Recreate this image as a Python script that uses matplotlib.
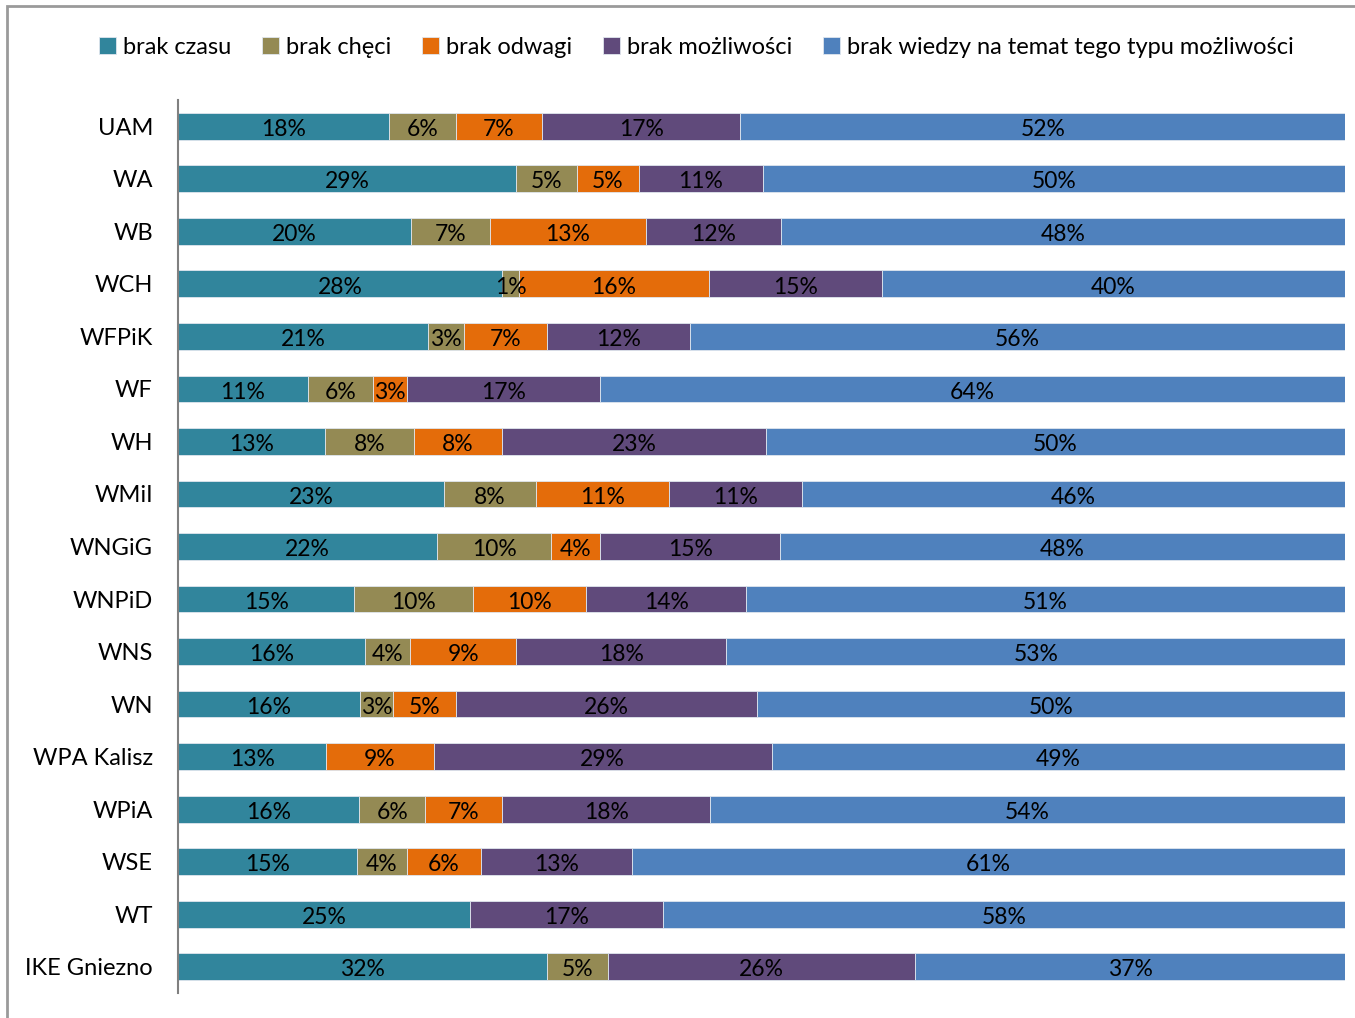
import matplotlib
matplotlib.use("Agg")
import matplotlib.pyplot as plt
import matplotlib.patches as patches
import numpy as np

plt.rcParams['font.family'] = ['Lato', 'DejaVu Sans']

# faculties, top to bottom
faculties = ["UAM", "WA", "WB", "WCH", "WFPiK", "WF", "WH", "WMiI", "WNGiG",
             "WNPiD", "WNS", "WN", "WPA Kalisz", "WPiA", "WSE", "WT", "IKE Gniezno"]

series_names = ["brak czasu", "brak chęci", "brak odwagi", "brak możliwości",
                "brak wiedzy na temat tego typu możliwości"]

# shares in percent
brak_czasu = [18.1, 29.0, 20.0, 27.8, 21.4, 11.1, 12.6, 22.8, 22.2, 15.1, 16.0, 15.6, 12.7, 15.5, 15.3, 25.0, 31.6]
brak_checi = [5.7, 5.2, 6.7, 1.4, 3.1, 5.6, 7.6, 7.9, 9.8, 10.2, 3.9, 2.8, 0.0, 5.7, 4.3, 0.0, 5.2]
brak_odwagi = [7.4, 5.3, 13.4, 16.3, 7.1, 2.9, 7.6, 11.4, 4.2, 9.7, 9.1, 5.4, 9.2, 6.6, 6.4, 0.0, 0.0]
brak_mozliwosci = [17.0, 10.6, 11.6, 14.8, 12.3, 16.6, 22.6, 11.4, 15.4, 13.7, 18.0, 25.8, 29.0, 17.8, 12.9, 16.6, 26.3]
brak_wiedzy = [51.8, 49.9, 48.3, 39.7, 56.1, 63.8, 49.6, 46.5, 48.4, 51.3, 53.0, 50.4, 49.1, 54.4, 61.1, 58.4, 36.8]

colors = ["#31859C", "#948A54", "#E46C0A", "#604A7B", "#4F81BD"]

data = np.array([brak_czasu, brak_checi, brak_odwagi, brak_mozliwosci, brak_wiedzy])
shares = data / data.sum(axis=0)  # 100% stacked

fig = plt.figure(figsize=(13.55, 10.18), dpi=100)
ax = fig.add_axes([178 / 1355, 1 - 993 / 1018, (1345 - 178) / 1355, (993 - 100) / 1018])

y = np.arange(len(faculties))
left = np.zeros(len(faculties))
for k, name in enumerate(series_names):
    ax.barh(y, shares[k], left=left, height=0.51, color=colors[k], label=name,
            edgecolor="#dfe6ee", linewidth=0.6)
    for i in range(len(faculties)):
        if data[k, i] > 0:
            ax.text(left[i] + shares[k, i] / 2, y[i] + 0.06, f"{data[k, i]:.0f}%",
                    ha="center", va="center", fontsize=16.5, color="black")
    left += shares[k]

ax.set_xlim(0, 1)
ax.set_ylim(len(faculties) - 0.5, -0.5)
ax.set_yticks(y)
ax.set_yticklabels(faculties, fontsize=17)
ax.tick_params(axis="y", length=0, pad=18)
ax.set_xticks([])
for s in ["top", "right", "bottom"]:
    ax.spines[s].set_visible(False)
ax.spines["left"].set_color("#808080")
ax.spines["left"].set_linewidth(1.5)

fig.legend(*ax.get_legend_handles_labels(), loc="center", bbox_to_anchor=(0.514, 1 - 47 / 1018),
           ncol=5, frameon=False, fontsize=17, handlelength=0.7, handleheight=0.7,
           handletextpad=0.3, columnspacing=1.32)

# outer chart border (right/bottom edges fall outside the picture)
fig.patches.append(patches.Rectangle((7 / 1355, -0.1), 1.2, 1 - 6 / 1018 + 0.1,
                                     transform=fig.transFigure, fill=False,
                                     edgecolor="#9a9a9a", linewidth=2))

fig.savefig("out.png", dpi=100)
